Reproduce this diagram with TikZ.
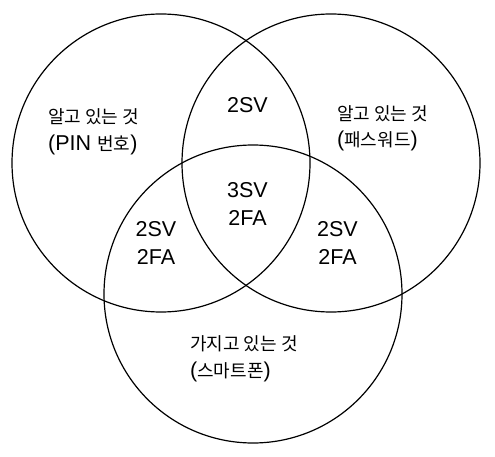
\documentclass[tikz,border=0pt]{standalone}
\usepackage{fontspec}
\setmainfont{Liberation Sans}
\newfontfamily\kr{Noto Sans CJK KR}
\newcommand{\hg}[1]{{\kr\fontsize{18}{26.5}\selectfont #1}}
\begin{document}
\begin{tikzpicture}[x=1pt,y=-1pt,
    ring/.style={circle, draw, line width=1.2pt, minimum size=298pt, inner sep=0pt},
    area/.style={inner sep=0pt, align=center, font=\fontsize{21.5}{28}\selectfont},
    side/.style={inner sep=0pt, align=left, anchor=west, font=\fontsize{21.5}{26.5}\selectfont}]
  \useasboundingbox (0,0) rectangle (495,457);

  % the three factors
  \node[ring] (know) at (161,163) {};
  \node[ring] (pass) at (331,163) {};
  \node[ring] (have) at (253,294) {};

  % labels of the factors
  \node[side] (knowtxt) at (48,132) {\hg{알고 있는 것}\\(PIN \hg{번호})};
  \node[side] (passtxt) at (337,128.5) {\hg{알고 있는 것}\\(\hg{패스워드})};
  \node[side] (havetxt) at (190,359) {\hg{가지고 있는 것}\\(\hg{스마트폰})};

  % overlaps
  \node[area] (top) at (247.5,105) {2SV};
  \node[area] (mid) at (247.5,204) {3SV\\2FA};
  \node[area] (lft) at (156,242.5) {2SV\\2FA};
  \node[area] (rgt) at (337.5,242.5) {2SV\\2FA};
\end{tikzpicture}
\end{document}
